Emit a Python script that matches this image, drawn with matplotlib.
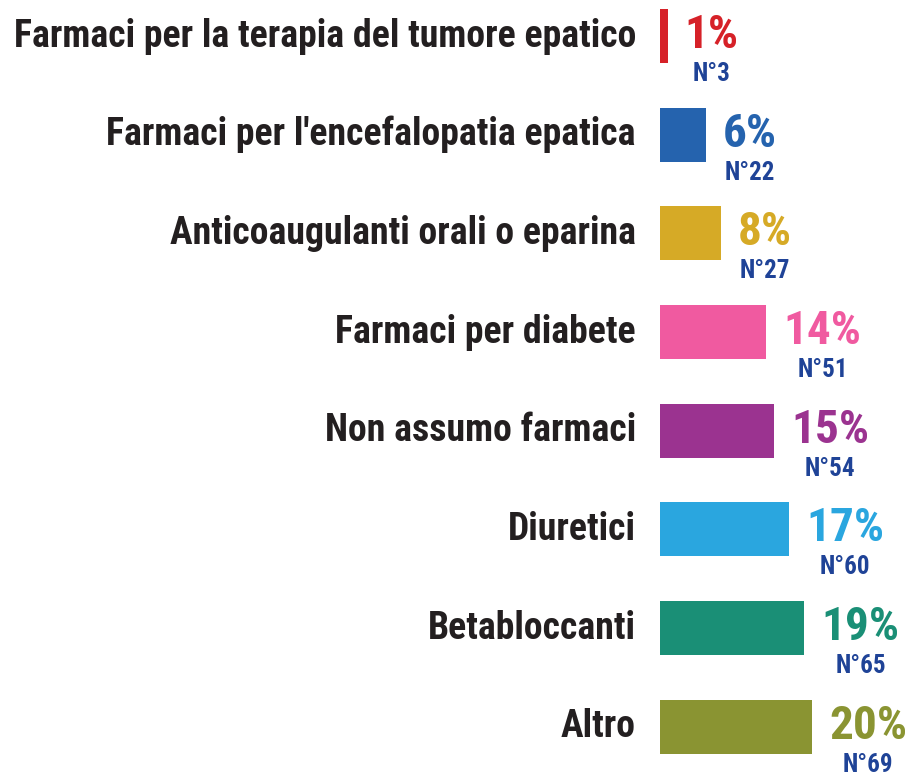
import matplotlib
matplotlib.use("Agg")
import matplotlib.pyplot as plt
import matplotlib.transforms as mtransforms

# data
labels = [
    "Farmaci per la terapia del tumore epatico",
    "Farmaci per l'encefalopatia epatica",
    "Anticoaugulanti orali o eparina",
    "Farmaci per diabete",
    "Non assumo farmaci",
    "Diuretici",
    "Betabloccanti",
    "Altro",
]
percents = [1, 6, 8, 14, 15, 17, 19, 20]
counts = [3, 22, 27, 51, 54, 60, 65, 69]
colors = ["#d62128", "#2563ae", "#d6aa26", "#f05aa0",
          "#9b3390", "#2aa6df", "#1a8f76", "#8a9432"]
n_color = "#1f4397"
text_color = "#231f20"

family = ["Roboto Condensed", "DejaVu Sans"]

fig = plt.figure(figsize=(9.09, 7.76), dpi=100)
ax = fig.add_axes([660 / 909, 0, (909 - 660) / 909, 1])
ax.set_xlim(0, (909 - 660) / 7.6)
ax.set_ylim(7.50, -0.365)
ax.axis("off")

ypos = list(range(len(labels)))
ax.barh(ypos, percents, height=0.55, color=colors)

renderer = fig.canvas.get_renderer()
px = 0.72  # points per pixel at dpi 100
for i, (lab, p, n, c) in enumerate(zip(labels, percents, counts, colors)):
    # category label, right-aligned left of the bars
    tr = mtransforms.offset_copy(ax.transData, fig=fig, x=-24 * px, y=-10.5 * px, units="points")
    ax.text(0, i, lab, transform=tr, ha="right", va="baseline",
            fontsize=27.2, fontweight="bold", family=family, color=text_color,
            clip_on=False)
    # percent label
    tr2 = mtransforms.offset_copy(ax.transData, fig=fig, x=17 * px, y=-12 * px, units="points")
    t = ax.text(p, i, f"{p}%", transform=tr2, ha="left", va="baseline",
                fontsize=34, fontweight="bold", family=family, color=c)
    # N label centered under the percent label
    bb = t.get_window_extent(renderer=renderer)
    xc = (bb.x0 + bb.x1) / 2
    yb = ax.transData.transform((0, i))[1] - 45
    fig.text(xc / fig.bbox.width, yb / fig.bbox.height, f"N°{n}",
             ha="center", va="baseline", fontsize=18, fontweight="bold",
             family=family, color=n_color)

fig.savefig("out.png", dpi=100)
